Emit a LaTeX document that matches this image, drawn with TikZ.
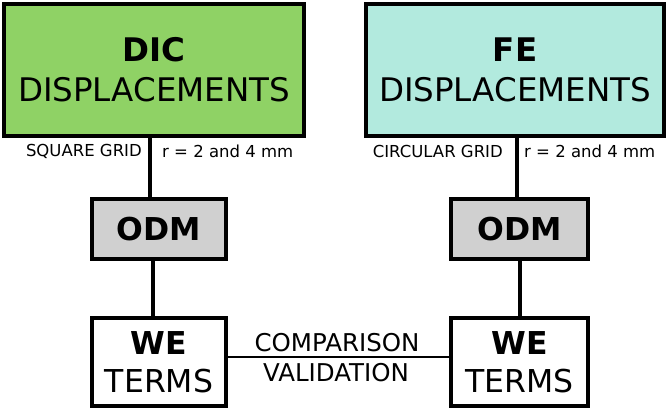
\documentclass[tikz,border=0pt]{standalone}
\usepackage{fontspec}
\setmainfont{DejaVu Sans}
\definecolor{dicgreen}{RGB}{143,210,101}
\definecolor{feteal}{RGB}{178,234,222}
\definecolor{odmgray}{RGB}{208,208,208}
\begin{document}
\begin{tikzpicture}[x=1pt,y=-1pt,
  box/.style={draw=black, line width=4pt, inner sep=0pt, align=center},
  bigtext/.style={font=\fontsize{32.5}{40}\selectfont},
  midtext/.style={font=\fontsize{31.5}{38}\selectfont},
  lbl/.style={font=\fontsize{16.5}{18}\selectfont, inner sep=0pt},
  cmp/.style={font=\fontsize{24.5}{26}\selectfont, inner sep=0pt},
  conn/.style={line width=3.5pt},
  thin/.style={line width=2pt}]
\useasboundingbox (0,0) rectangle (668,410);
\fill[white] (0,0) rectangle (668,410);
\node[box, bigtext, fill=dicgreen, minimum width=300pt, minimum height=132pt] (dic) at (154,70) {\textbf{DIC}\\DISPLACEMENTS};
\node[box, bigtext, fill=feteal, minimum width=298pt, minimum height=132pt] (fe) at (515,70) {\textbf{FE}\\DISPLACEMENTS};
\node[box, midtext, fill=odmgray, minimum width=134pt, minimum height=60pt] (odmL) at (159,229) {\textbf{ODM}};
\node[box, midtext, fill=odmgray, minimum width=137pt, minimum height=60pt] (odmR) at (519.5,229) {\textbf{ODM}};
\node[box, midtext, fill=white, minimum width=134pt, minimum height=88pt] (weL) at (159,362) {\textbf{WE}\\TERMS};
\node[box, midtext, fill=white, minimum width=137pt, minimum height=88pt] (weR) at (519.5,362) {\textbf{WE}\\TERMS};
\draw[conn] (dic.south -| 150,0) -- (odmL.north -| 150,0);
\draw[conn] (odmL.south -| 153,0) -- (weL.north -| 153,0);
\draw[conn] (fe.south -| 517,0) -- (odmR.north -| 517,0);
\draw[conn] (odmR.south -| 520,0) -- (weR.north -| 520,0);
\draw[thin] (weL.east |- 0,357) -- (weR.west |- 0,357);
\node[lbl, anchor=east] (sq) at (142,151) {SQUARE GRID};
\node[lbl, anchor=west] (rL) at (162,151) {r = 2 and 4 mm};
\node[lbl, anchor=east] (circ) at (503,151) {CIRCULAR GRID};
\node[lbl, anchor=west] (rR) at (524,151) {r = 2 and 4 mm};
\node[cmp] (comp) at (337,343) {COMPARISON};
\node[cmp] (valid) at (336,373) {VALIDATION};
\end{tikzpicture}
\end{document}
